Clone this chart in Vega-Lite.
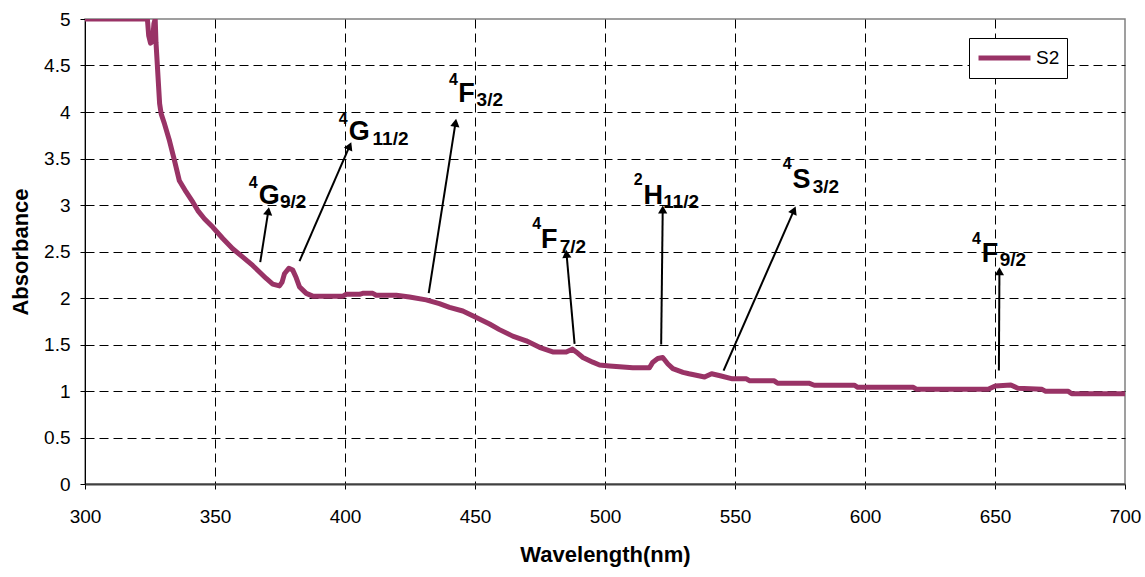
{
  "$schema": "https://vega.github.io/schema/vega-lite/v6.json",
  "width": 1040,
  "height": 465,
  "autosize": {"type": "none"},
  "padding": {"left": 85, "top": 19, "right": 20, "bottom": 93},
  "background": "white",
  "datasets": {
    "curve": [
      {"w": 300, "a": 5}, {"w": 324, "a": 5}, {"w": 324.5, "a": 4.82}, {"w": 325.2, "a": 4.74}, {"w": 326, "a": 4.76},
      {"w": 326.5, "a": 4.95}, {"w": 327, "a": 5}, {"w": 327.3, "a": 4.75}, {"w": 328.7, "a": 4.09}, {"w": 329.3, "a": 3.98},
      {"w": 330.6, "a": 3.87}, {"w": 332.5, "a": 3.69}, {"w": 334.4, "a": 3.48}, {"w": 336.3, "a": 3.26}, {"w": 338.9, "a": 3.14},
      {"w": 341.5, "a": 3.03}, {"w": 343.4, "a": 2.94}, {"w": 346, "a": 2.85}, {"w": 349.2, "a": 2.76}, {"w": 353, "a": 2.64},
      {"w": 356.8, "a": 2.53}, {"w": 360.7, "a": 2.44}, {"w": 364.5, "a": 2.35}, {"w": 367.1, "a": 2.28}, {"w": 369.7, "a": 2.21},
      {"w": 372.2, "a": 2.15}, {"w": 374.8, "a": 2.13}, {"w": 375.8, "a": 2.17}, {"w": 376.7, "a": 2.26}, {"w": 378.4, "a": 2.32},
      {"w": 379.9, "a": 2.3}, {"w": 381.2, "a": 2.22}, {"w": 382.5, "a": 2.12}, {"w": 385.1, "a": 2.05}, {"w": 387.6, "a": 2.02},
      {"w": 399.2, "a": 2.02}, {"w": 400.5, "a": 2.04}, {"w": 405.6, "a": 2.04}, {"w": 406.8, "a": 2.05}, {"w": 410.7, "a": 2.05},
      {"w": 412, "a": 2.03}, {"w": 419.7, "a": 2.03}, {"w": 424.8, "a": 2.01}, {"w": 431.2, "a": 1.98}, {"w": 436.3, "a": 1.94},
      {"w": 440.2, "a": 1.9}, {"w": 445.3, "a": 1.86}, {"w": 450.5, "a": 1.79}, {"w": 455.6, "a": 1.72}, {"w": 459.4, "a": 1.66},
      {"w": 464.5, "a": 1.59}, {"w": 469.7, "a": 1.54}, {"w": 474.8, "a": 1.47}, {"w": 479.9, "a": 1.42}, {"w": 485.1, "a": 1.42},
      {"w": 487.4, "a": 1.45}, {"w": 488.9, "a": 1.42}, {"w": 491.5, "a": 1.36}, {"w": 495.3, "a": 1.31}, {"w": 497.9, "a": 1.28},
      {"w": 501.7, "a": 1.27}, {"w": 505.6, "a": 1.26}, {"w": 510.7, "a": 1.25}, {"w": 517.1, "a": 1.25}, {"w": 518.4, "a": 1.31},
      {"w": 520.3, "a": 1.35}, {"w": 522.2, "a": 1.36}, {"w": 524.2, "a": 1.29}, {"w": 526.1, "a": 1.24}, {"w": 530, "a": 1.2},
      {"w": 532.3, "a": 1.185}, {"w": 538.3, "a": 1.15}, {"w": 541, "a": 1.185}, {"w": 544.3, "a": 1.164}, {"w": 549, "a": 1.131},
      {"w": 554.4, "a": 1.131}, {"w": 555.7, "a": 1.109}, {"w": 565.1, "a": 1.109}, {"w": 566.4, "a": 1.084}, {"w": 578.4, "a": 1.084},
      {"w": 580.5, "a": 1.062}, {"w": 595.9, "a": 1.062}, {"w": 597.2, "a": 1.04}, {"w": 618.6, "a": 1.04}, {"w": 619.9, "a": 1.018},
      {"w": 647.4, "a": 1.018}, {"w": 650.1, "a": 1.055}, {"w": 656.1, "a": 1.065}, {"w": 658.8, "a": 1.029}, {"w": 668.1, "a": 1.018},
      {"w": 669.5, "a": 0.996}, {"w": 678.2, "a": 0.996}, {"w": 679.5, "a": 0.971}, {"w": 700, "a": 0.971}
    ],
    "arrows": [
      {"w": 367.4, "a": 2.385, "w2": 370.5, "a2": 2.934, "ang": 9},
      {"w": 382.5, "a": 2.396, "w2": 401.8, "a2": 3.635, "ang": 23.5},
      {"w": 432.2, "a": 2.052, "w2": 442.5, "a2": 3.884, "ang": 9},
      {"w": 488.3, "a": 1.507, "w2": 485.2, "a2": 2.475, "ang": -5},
      {"w": 521.6, "a": 1.5, "w2": 522.2, "a2": 2.952, "ang": 0.7},
      {"w": 545.6, "a": 1.22, "w2": 572.7, "a2": 2.944, "ang": 23.7},
      {"w": 651.5, "a": 1.22, "w2": 651.7, "a2": 2.288, "ang": 0.4}
    ],
    "labels": [
      {"w": 363.0, "a": 3.185, "t": "4", "k": "sup"}, {"w": 366.8, "a": 3.013, "t": "G", "k": "main"}, {"w": 375.0, "a": 2.968, "t": "9/2", "k": "sub"},
      {"w": 397.6, "a": 3.873, "t": "4", "k": "sup"}, {"w": 401.4, "a": 3.694, "t": "G", "k": "main"}, {"w": 410.6, "a": 3.645, "t": "11/2", "k": "sub"},
      {"w": 440.0, "a": 4.285, "t": "4", "k": "sup"}, {"w": 443.6, "a": 4.105, "t": "F", "k": "main"}, {"w": 450.6, "a": 4.065, "t": "3/2", "k": "sub"},
      {"w": 472.0, "a": 2.744, "t": "4", "k": "sup"}, {"w": 475.4, "a": 2.534, "t": "F", "k": "main"}, {"w": 482.6, "a": 2.484, "t": "7/2", "k": "sub"},
      {"w": 511.1, "a": 3.21, "t": "2", "k": "sup"}, {"w": 514.8, "a": 3.013, "t": "H", "k": "main"}, {"w": 522.4, "a": 2.968, "t": "11/2", "k": "sub"},
      {"w": 568.4, "a": 3.389, "t": "4", "k": "sup"}, {"w": 572.1, "a": 3.183, "t": "S", "k": "main"}, {"w": 579.9, "a": 3.134, "t": "3/2", "k": "sub"},
      {"w": 641.2, "a": 2.583, "t": "4", "k": "sup"}, {"w": 644.9, "a": 2.385, "t": "F", "k": "main"}, {"w": 651.8, "a": 2.339, "t": "9/2", "k": "sub"}
    ]
  },
  "encoding": {
    "x": {
      "field": "w", "type": "quantitative",
      "scale": {"domain": [300, 700], "nice": false, "zero": false},
      "axis": {
        "title": "Wavelength(nm)",
        "values": [300, 350, 400, 450, 500, 550, 600, 650, 700],
        "format": "d",
        "labelFlush": false,
        "labelOverlap": false,
        "labelPadding": 18,
        "titlePadding": 18,
        "domainColor": "#404040",
        "domainWidth": 2,
        "gridOpacity": {"condition": {"test": "datum.value == 300 || datum.value == 700", "value": 0}, "value": 1}
      }
    },
    "y": {
      "field": "a", "type": "quantitative",
      "scale": {"domain": [0, 5], "nice": false},
      "axis": {
        "title": "Absorbance",
        "values": [0, 0.5, 1, 1.5, 2, 2.5, 3, 3.5, 4, 4.5, 5],
        "format": "~g",
        "labelFlush": false,
        "labelOverlap": false,
        "labelPadding": 10,
        "titlePadding": 11,
        "gridOpacity": {"condition": {"test": "datum.value == 0 || datum.value == 5", "value": 0}, "value": 1}
      }
    }
  },
  "layer": [
    {
      "data": {"name": "curve"},
      "mark": {"type": "line", "strokeWidth": 5, "clip": true, "strokeCap": "round", "strokeJoin": "round"},
      "encoding": {
        "color": {
          "datum": "S2",
          "scale": {"domain": ["S2"], "range": ["#993366"]},
          "legend": {
            "title": null,
            "orient": "none",
            "legendX": 884,
            "legendY": 19,
            "strokeColor": "black",
            "fillColor": "white",
            "padding": 7,
            "clipHeight": 26,
            "symbolType": "stroke",
            "symbolSize": 2700,
            "symbolStrokeWidth": 5,
            "labelFontSize": 19,
            "labelOffset": 3,
            "labelColor": "black"
          }
        }
      }
    },
    {
      "data": {"name": "arrows"},
      "mark": {"type": "rule", "color": "black", "strokeWidth": 2},
      "encoding": {
        "x2": {"field": "w2"},
        "y2": {"field": "a2"}
      }
    },
    {
      "data": {"name": "arrows"},
      "mark": {"type": "point", "shape": "triangle-up", "filled": true, "color": "black", "size": 85, "opacity": 1},
      "encoding": {
        "x": {"field": "w2", "type": "quantitative"},
        "y": {"field": "a2", "type": "quantitative"},
        "angle": {"field": "ang", "type": "quantitative", "scale": null}
      }
    },
    {
      "data": {"name": "labels"},
      "transform": [{"filter": "datum.k == 'main'"}],
      "mark": {"type": "text", "align": "left", "baseline": "alphabetic", "font": "Liberation Sans", "fontWeight": "bold", "fontSize": 27, "color": "black"},
      "encoding": {"text": {"field": "t"}}
    },
    {
      "data": {"name": "labels"},
      "transform": [{"filter": "datum.k == 'sup'"}],
      "mark": {"type": "text", "align": "left", "baseline": "alphabetic", "font": "Liberation Sans", "fontWeight": "bold", "fontSize": 16, "color": "black"},
      "encoding": {"text": {"field": "t"}}
    },
    {
      "data": {"name": "labels"},
      "transform": [{"filter": "datum.k == 'sub'"}],
      "mark": {"type": "text", "align": "left", "baseline": "alphabetic", "font": "Liberation Sans", "fontWeight": "bold", "fontSize": 19, "color": "black"},
      "encoding": {"text": {"field": "t"}}
    }
  ],
  "config": {
    "font": "Liberation Sans",
    "view": {"stroke": "#808080", "strokeWidth": 1.5},
    "axis": {
      "labelFont": "Liberation Sans",
      "titleFont": "Liberation Sans",
      "labelColor": "black",
      "titleColor": "black",
      "tickColor": "black",
      "domainColor": "black",
      "labelFontSize": 19,
      "titleFontSize": 22,
      "titleFontWeight": "bold",
      "gridColor": "black",
      "gridDash": [9, 5],
      "gridWidth": 1,
      "tickSize": 5,
      "grid": true
    }
  }
}
